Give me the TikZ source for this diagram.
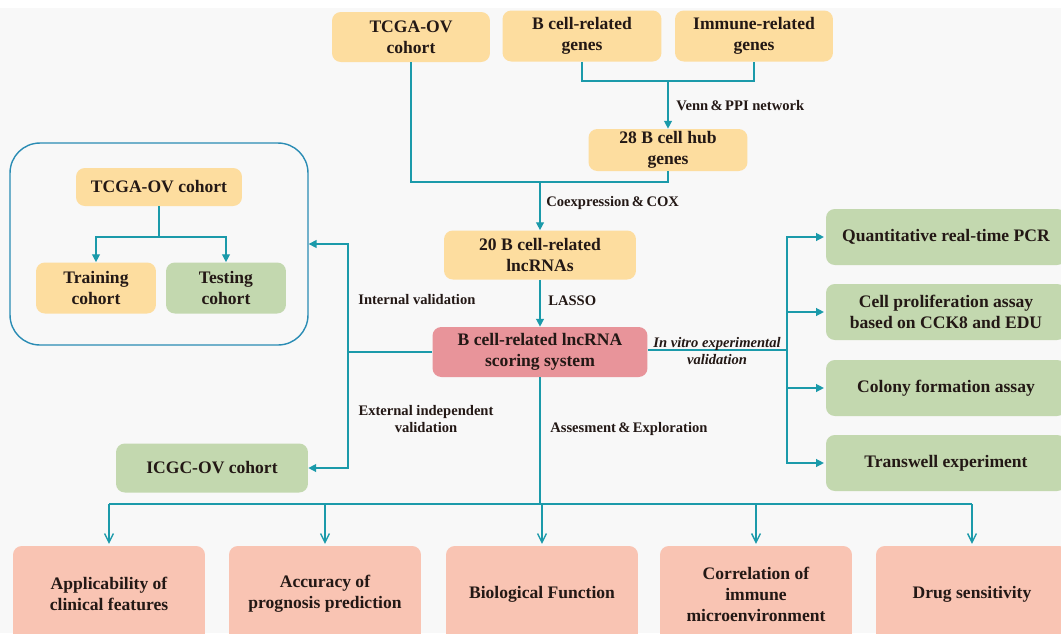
\documentclass[tikz,border=0pt]{standalone}
\usepackage{fontspec}
\setmainfont{Liberation Serif}
\usetikzlibrary{arrows.meta}
\definecolor{bgfill}{HTML}{F8F8F8}
\definecolor{orangefill}{HTML}{FDDD9F}
\definecolor{greenfill}{HTML}{C3D8AF}
\definecolor{pinkfill}{HTML}{E8949A}
\definecolor{salmonfill}{HTML}{F9C4B3}
\definecolor{linecol}{HTML}{1B9AAA}
\definecolor{framecol}{HTML}{2A8CB4}
\definecolor{txtcol}{HTML}{231815}
\tikzset{
  box/.style={rounded corners=5pt, inner sep=0pt, align=center, text=txtcol,
    font=\fontsize{10}{11.9}\selectfont\bfseries},
  obox/.style={box, fill=orangefill},
  gbox/.style={box, fill=greenfill},
  sbox/.style={box, fill=salmonfill, minimum width=3.84cm, minimum height=1.92cm},
  lab/.style={text=txtcol, inner sep=0pt, align=center, font=\fontsize{8.3}{10}\selectfont\bfseries},
  conn/.style={draw=linecol, line width=0.8pt},
  arr/.style={conn, -{Triangle[width=4.5pt,length=4.5pt]}},
  barr/.style={conn, -{Straight Barb[width=5pt,length=5pt]}}
}
\begin{document}
\begin{tikzpicture}[x=0.02cm, y=-0.02cm]
    \useasboundingbox (0,0) rectangle (1061,633);
    \fill[white] (0,0) rectangle (1061,633);
    \fill[bgfill] (0,8) rectangle (1061,633);
    % top part
    \node[obox, minimum width=3.16cm, minimum height=1.0cm] (tcga) at (411,37) {TCGA-OV\\cohort};
    \node[obox, minimum width=3.18cm, minimum height=1.02cm] (bgenes) at (582,36) {B cell-related\\genes};
    \node[obox, minimum width=3.16cm, minimum height=1.02cm] (igenes) at (754,36) {Immune-related\\genes};
    \node[obox, minimum width=3.18cm, minimum height=0.84cm] (hub) at (668,150) {28 B cell hub\\genes};
    \node[obox, minimum width=3.84cm, minimum height=0.98cm] (lnc) at (540,255) {20 B cell-related\\lncRNAs};
    \node[box, fill=pinkfill, minimum width=4.3cm, minimum height=1.0cm] (score) at (540,352) {B cell-related lncRNA\\scoring system};
    \coordinate (vennj) at (668,81);
    \coordinate (coxj) at (540,182);
    \draw[conn] (bgenes.south) |- (vennj) -| (igenes.south);
    \draw[arr] (vennj) -- (hub.north);
    \draw[conn] (tcga.south) |- (coxj) -| (hub.south);
    \draw[arr] (coxj) -- (lnc.north);
    \draw[arr] (lnc.south) -- (score.north);
    \node[lab, anchor=west] (vennlab) at (676,106) {Venn\,\&\,PPI network};
    \node[lab, anchor=west] (coxlab) at (546,203) {Coexpression\,\&\,COX};
    \node[lab, anchor=west] (lassolab) at (548,301) {LASSO};
    % left part
    \node[draw=framecol, line width=0.8pt, rounded corners=17pt, minimum width=5.96cm, minimum height=4.04cm] (frame) at (159,244) {};
    \node[obox, minimum width=3.32cm, minimum height=0.76cm] (tcgain) at (159,187) {TCGA-OV cohort};
    \node[obox, minimum width=2.4cm, minimum height=1.02cm] (train) at (96,288) {Training\\cohort};
    \node[gbox, minimum width=2.4cm, minimum height=1.02cm] (test) at (226,288) {Testing\\cohort};
    \coordinate (splitj) at (159,237);
    \draw[conn] (tcgain.south) -- (splitj);
    \draw[arr] (splitj) -| (train.north);
    \draw[arr] (splitj) -| (test.north);
    \node[gbox, minimum width=3.84cm, minimum height=0.98cm] (icgc) at (212,468) {ICGC-OV cohort};
    \coordinate (leftj) at (348,352);
    \draw[conn] (score.west) -- (leftj);
    \draw[arr] (leftj) |- (frame.east);
    \draw[arr] (leftj) |- (icgc.east);
    \node[lab, anchor=west] (intlab) at (358,300) {Internal validation};
    \node[lab] (extlab) at (426,419) {External independent\\validation};
    % right part
    \node[gbox, minimum width=4.8cm, minimum height=1.12cm] (qpcr) at (946,237) {Quantitative real-time PCR};
    \node[gbox, minimum width=4.8cm, minimum height=1.12cm] (cck) at (946,312) {Cell proliferation assay\\based on CCK8 and EDU};
    \node[gbox, minimum width=4.8cm, minimum height=1.12cm] (colony) at (946,388) {Colony formation assay};
    \node[gbox, minimum width=4.8cm, minimum height=1.12cm] (transwell) at (946,463) {Transwell experiment};
    \coordinate (rightj) at (787,350);
    \draw[conn] (score.east |- rightj) -- (rightj);
    \foreach \t in {qpcr,cck,colony,transwell}
        \draw[arr] (rightj) |- ([xshift=-1pt]\t.west);
    \node[lab, font=\fontsize{8.3}{10}\selectfont\bfseries\itshape] (vitrolab) at (717,351) {In vitro experimental\\validation};
    % bottom part
    \node[sbox] (appl) at (109,594) {Applicability of\\clinical features};
    \node[sbox] (accu) at (325,594) {Accuracy of\\prognosis prediction};
    \node[sbox] (biol) at (542,594) {Biological Function};
    \node[sbox] (corr) at (756,594) {Correlation of\\immune\\microenvironment};
    \node[sbox] (drug) at (972,594) {Drug sensitivity};
    \coordinate (botj) at (540,504);
    \draw[conn] (score.south) -- (botj);
    \draw[conn] (appl.north |- botj) -- (drug.north |- botj);
    \foreach \b in {appl,accu,biol,corr,drug}
        \draw[barr] (\b.north |- botj) -- ([yshift=1pt]\b.north);
    \node[lab, anchor=west] (asslab) at (550,429) {Assesment\,\&\,Exploration};
\end{tikzpicture}
\end{document}
